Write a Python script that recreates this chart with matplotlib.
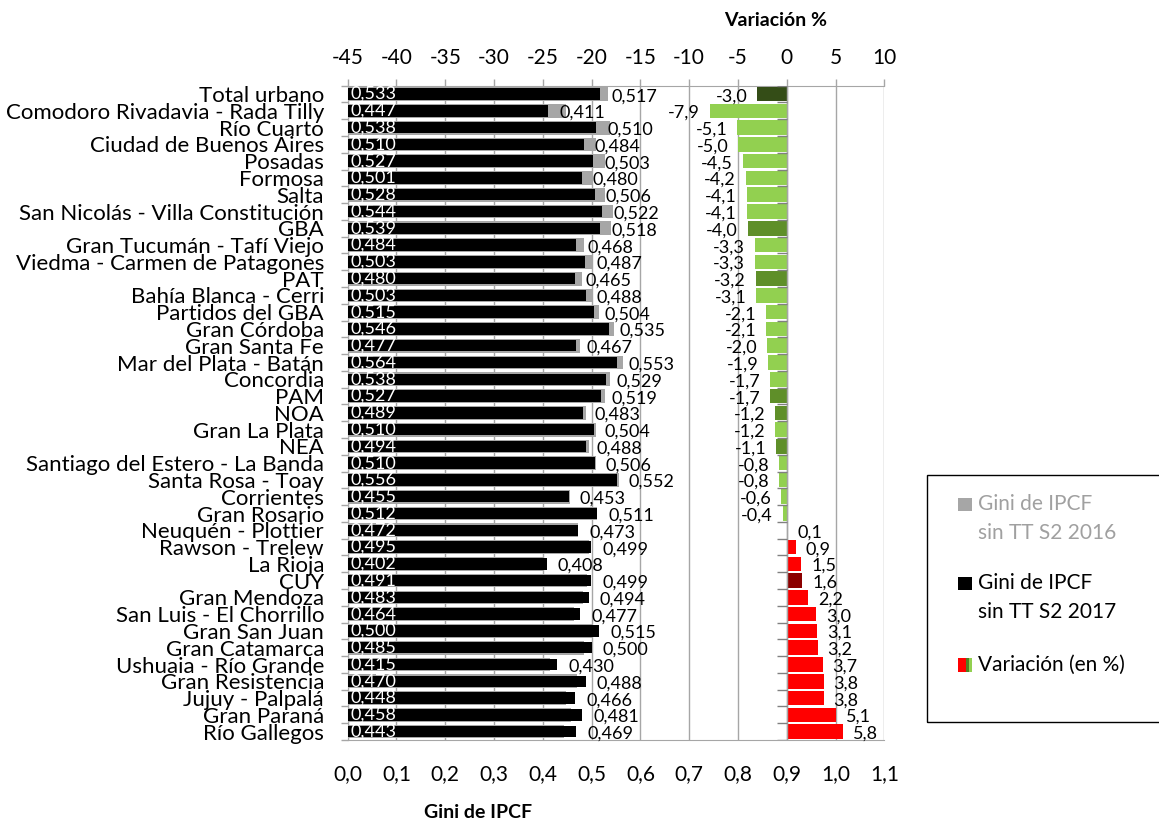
import numpy as np
import matplotlib.pyplot as plt
from matplotlib.patches import Rectangle

plt.rcParams['font.family'] = ['Lato', 'DejaVu Sans']

# Gini del ingreso per cápita familiar sin transferencias, por aglomerado y región
regions = [
    'Total urbano', 'Comodoro Rivadavia - Rada Tilly', 'Río Cuarto',
    'Ciudad de Buenos Aires', 'Posadas', 'Formosa', 'Salta',
    'San Nicolás - Villa Constitución', 'GBA', 'Gran Tucumán - Tafí Viejo',
    'Viedma - Carmen de Patagones', 'PAT', 'Bahía Blanca - Cerri',
    'Partidos del GBA', 'Gran Córdoba', 'Gran Santa Fe', 'Mar del Plata - Batán',
    'Concordia', 'PAM', 'NOA', 'Gran La Plata', 'NEA',
    'Santiago del Estero - La Banda', 'Santa Rosa - Toay', 'Corrientes',
    'Gran Rosario', 'Neuquén - Plottier', 'Rawson - Trelew', 'La Rioja', 'CUY',
    'Gran Mendoza', 'San Luis - El Chorrillo', 'Gran San Juan', 'Gran Catamarca',
    'Ushuaia - Río Grande', 'Gran Resistencia', 'Jujuy - Palpalá', 'Gran Paraná',
    'Río Gallegos',
]
gini_2016 = [
    0.533, 0.447, 0.538, 0.510, 0.527, 0.501, 0.528, 0.544, 0.539, 0.484,
    0.503, 0.480, 0.503, 0.515, 0.546, 0.477, 0.564, 0.538, 0.527, 0.489,
    0.510, 0.494, 0.510, 0.556, 0.455, 0.512, 0.472, 0.495, 0.402, 0.491,
    0.483, 0.464, 0.500, 0.485, 0.415, 0.470, 0.448, 0.458, 0.443,
]
gini_2017 = [
    0.517, 0.411, 0.510, 0.484, 0.503, 0.480, 0.506, 0.522, 0.518, 0.468,
    0.487, 0.465, 0.488, 0.504, 0.535, 0.467, 0.553, 0.529, 0.519, 0.483,
    0.504, 0.488, 0.506, 0.552, 0.453, 0.511, 0.473, 0.499, 0.408, 0.499,
    0.494, 0.477, 0.515, 0.500, 0.430, 0.488, 0.466, 0.481, 0.469,
]
variation = [
    -3.0, -7.9, -5.1, -5.0, -4.5, -4.2, -4.1, -4.1, -4.0, -3.3,
    -3.3, -3.2, -3.1, -2.1, -2.1, -2.0, -1.9, -1.7, -1.7, -1.2,
    -1.2, -1.1, -0.8, -0.8, -0.6, -0.4, 0.1, 0.9, 1.5, 1.6,
    2.2, 3.0, 3.1, 3.2, 3.7, 3.8, 3.8, 5.1, 5.8,
]
total_name = 'Total urbano'
region_names = ['GBA', 'PAT', 'PAM', 'NOA', 'NEA', 'CUY']

gini_ticks = [0.0, 0.1, 0.2, 0.3, 0.4, 0.5, 0.6, 0.7, 0.8, 0.9, 1.0, 1.1]
var_ticks = [-45, -40, -35, -30, -25, -20, -15, -10, -5, 0, 5, 10]

GRID = '#A6A6A6'


def bar_color(name, v):
    if v < 0:
        if name == total_name:
            return '#344D17'
        if name in region_names:
            return '#5F8F29'
        return '#92D050'
    if name in region_names:
        return '#8B0000'
    return '#FF0000'


def fmt(v, nd):
    return f'{v:.{nd}f}'.replace('.', ',')


n = len(regions)
y = np.arange(n)

fig = plt.figure(figsize=(11.59, 8.21), dpi=100)
ax = fig.add_axes([347.7 / 1159, 1 - 740 / 821, (884.3 - 347.7) / 1159, (740 - 85.7) / 821])

# Gini bars: 2016 grey behind, 2017 black in front
ax.barh(y, gini_2016, height=0.82, color='#A6A6A6', zorder=2)
ax.barh(y, gini_2017, height=0.68, color='black', zorder=3)
ax.set_xlim(0, 1.1)
ax.set_ylim(n - 0.5, -0.5)

for i in range(n):
    ax.text(0.006, i, fmt(gini_2016[i], 3), color='white', fontsize=13,
            ha='left', va='center', zorder=4)
    ax.annotate(fmt(gini_2017[i], 3), (gini_2017[i], i), xytext=(8, -1.5),
                textcoords='offset points', ha='left', va='center', fontsize=13,
                zorder=4)

ax.set_xticks(gini_ticks, [fmt(t, 1) for t in gini_ticks])
ax.tick_params(axis='x', length=0, pad=17, labelsize=15)
ax.grid(axis='x', color=GRID, lw=1)
ax.set_axisbelow(True)

ax.set_yticks(y, regions)
ax.set_yticks(np.arange(-0.5, n), minor=True)
ax.tick_params(axis='y', which='major', length=0, pad=17, labelsize=16)
ax.tick_params(axis='y', which='minor', length=5, color=GRID, width=1)
for s in ax.spines.values():
    s.set_color(GRID)
ax.spines['right'].set_visible(False)

# Variation bars on the top axis
ax2 = ax.twiny()
ax2.set_xlim(-45, 10)
ax2.barh(y, variation, height=0.87,
         color=[bar_color(r, v) for r, v in zip(regions, variation)], zorder=2)
ax2.axvline(0, color=GRID, lw=1, zorder=3)
ax2.hlines(np.arange(-0.5, n), -1.0, 0, color='#808080', lw=1, zorder=3)
for i, v in enumerate(variation):
    off = 7 if v > 0 else -7
    ax2.annotate(fmt(v, 1), (v, i), xytext=(off, -1.5), textcoords='offset points',
                 ha='left' if v > 0 else 'right', va='center', fontsize=13)
ax2.set_xticks(var_ticks, [str(t) for t in var_ticks])
ax2.tick_params(axis='x', length=5, color=GRID, width=1, pad=8, labelsize=15)
for s in ax2.spines.values():
    s.set_visible(False)

fig.text(776 / 1159, 1 - 20 / 821, 'Variación %', ha='center', va='center',
         fontsize=14, fontweight='bold')
fig.text(478 / 1159, 1 - 812 / 821, 'Gini de IPCF', ha='center', va='center',
         fontsize=14, fontweight='bold')

# Legend box
W, H = 1159, 821


def fx(px):
    return px / W


def fy(py):
    return 1 - py / H


fig.patches.append(Rectangle((fx(927), fy(722)), fx(300), (722 - 475) / H,
                             transform=fig.transFigure, fill=False,
                             edgecolor='black', lw=1))


def square(x0, x1, y0, y1, color):
    fig.patches.append(Rectangle((fx(x0), fy(y1)), (x1 - x0) / W, (y1 - y0) / H,
                                 transform=fig.transFigure, color=color, lw=0))


square(958, 972, 498, 511, '#A6A6A6')
fig.text(fx(978), fy(504), 'Gini de IPCF', color='#A0A0A0', fontsize=15, va='center')
fig.text(fx(978), fy(533), 'sin TT S2 2016', color='#A0A0A0', fontsize=15, va='center')

square(958, 972, 577, 590, 'black')
fig.text(fx(978), fy(583), 'Gini de IPCF', color='black', fontsize=15, va='center')
fig.text(fx(978), fy(612), 'sin TT S2 2017', color='black', fontsize=15, va='center')

square(958, 966, 658, 672, '#FF0000')
square(966, 969, 658, 672, '#4F7F22')
square(969, 972, 658, 672, '#92D050')
fig.text(fx(978), fy(665), 'Variación (en %)', color='black', fontsize=15, va='center')

fig.savefig('out.png', dpi=100)
